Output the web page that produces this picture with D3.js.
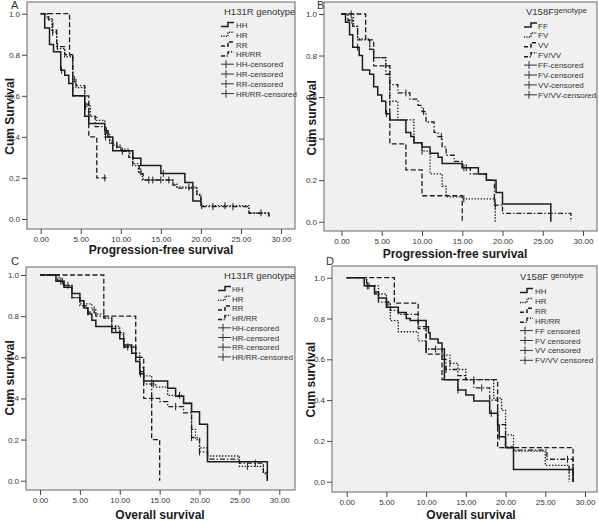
<!DOCTYPE html>
<html><head><meta charset="utf-8">
<script src="https://cdn.jsdelivr.net/npm/d3@7"></script>
<style>html,body{margin:0;padding:0;background:#fff}svg{display:block}</style>
</head><body>
<svg id="chart" width="599" height="522"></svg>
<script>
// ---------- DATA ----------
const xTicks = [0, 5, 10, 15, 20, 25, 30];
const yTicks = [0, 0.2, 0.4, 0.6, 0.8, 1.0];

const panelLetters = ["A", "B", "C", "D"];
const xTitles = ["Progression-free survival", "Progression-free survival", "Overall survival", "Overall survival"];
const yTitles = ["Cum Survival", "Cum survival", "Cum survival", "Cum survival"];
const legendTitlesMain = ["H131R genotype", "V158F", "H131R genotype", "V158F "];
const legendTitlesSup = ["", "genotype", "", "genotype"];

const legendA = ["HH", "HR", "RR", "HR/RR", "HH-censored", "HR-censored", "RR-censored", "HR/RR-censored"];
const legendB = ["FF", "FV", "VV", "FV/VV", "FF-censored", "FV-censored", "VV-censored", "FV/VV-censored"];
const legendC = ["HH", "HR", "RR", "HR/RR", "HH-censored", "HR-censored", "RR-censored", "HR/RR-censored"];
const legendD = ["HH", "HR", "RR", "HR/RR", "FF censored", "FV censored", "VV censored", "FV/VV censored"];

// Panel A: PFS by H131R  [time, survival]
const A_HH = [[0,1],[0.5,0.93],[1.1,0.85],[1.6,0.815],[2.5,0.725],[3.0,0.70],[3.5,0.66],[4.0,0.60],[5.5,0.50],[6.0,0.465],[8.0,0.43],[8.4,0.40],[9.0,0.333],[11.5,0.296],[12.5,0.26],[15.0,0.222],[18.0,0.178],[19.0,0.088],[20.0,0.088]];
const A_HR = [[0,1],[0.8,0.975],[1.4,0.91],[2.0,0.83],[3.0,0.79],[4.0,0.67],[4.4,0.64],[5.5,0.55],[6.2,0.50],[7.0,0.48],[8.0,0.42],[8.6,0.38],[9.0,0.36],[10.0,0.34],[11.0,0.32],[11.5,0.27],[12.2,0.23],[12.7,0.19],[16.5,0.17],[17.0,0.155],[19.5,0.12],[20.0,0.065],[26.0,0.03],[28.5,0.01]];
const A_RR = [[0,1],[3.6,0.8],[4.0,0.6],[6.0,0.4],[7.0,0.2],[8.3,0.2]];
const A_HRRR = [[0,1],[1.0,0.97],[1.5,0.92],[2.0,0.84],[3.0,0.8],[4.0,0.68],[4.4,0.65],[5.5,0.56],[6.0,0.50],[6.8,0.45],[8.0,0.40],[8.6,0.37],[9.5,0.35],[10.0,0.33],[11.0,0.30],[11.5,0.26],[12.3,0.22],[12.8,0.19],[16.5,0.165],[17.0,0.15],[19.5,0.115],[20.0,0.06],[26.0,0.028],[28.5,0.005]];
const A_HH_c = [2.6, 8.2, 15.3, 20.0];
const A_HR_c = [1.5, 5.6, 9.5, 12.5, 14.0, 15.0, 18.5, 20.1, 23.0, 27.5];
const A_RR_c = [8.0];
const A_HRRR_c = [2.1, 4.2, 8.1, 10.2, 13.5, 16.0, 21.5, 24.0];

// Panel B: PFS by V158F
const B_FF = [[0,1],[0.5,0.96],[1.0,0.90],[1.4,0.84],[2.2,0.80],[2.6,0.73],[3.5,0.71],[4.0,0.65],[4.5,0.61],[5.0,0.58],[5.5,0.52],[6.0,0.49],[8.0,0.43],[8.6,0.41],[9.0,0.38],[10.0,0.36],[11.0,0.33],[12.0,0.31],[12.5,0.28],[15.0,0.26],[17.0,0.23],[18.0,0.20],[19.2,0.14],[20.0,0.085],[26.0,0]];
const B_FV = [[0,1],[1.5,0.94],[2.0,0.88],[3.5,0.83],[4.0,0.79],[5.5,0.75],[6.0,0.58],[7.0,0.49],[9.0,0.38],[10.0,0.34],[11.0,0.23],[12.5,0.17],[13.0,0.12],[15.0,0.11],[19.1,0]];
const B_VV = [[0,1],[3.0,0.875],[4.0,0.75],[6.0,0.375],[8.0,0.25],[10.0,0.125],[15.0,0]];
const B_FVVV = [[0,1],[0.8,0.97],[1.4,0.94],[2.0,0.875],[3.5,0.83],[4.0,0.79],[5.5,0.71],[6.0,0.66],[7.0,0.62],[8.5,0.59],[9.5,0.56],[10.0,0.53],[10.5,0.48],[11.5,0.43],[12.0,0.41],[12.5,0.36],[13.0,0.32],[14.0,0.29],[15.0,0.26],[16.0,0.23],[18.0,0.20],[19.0,0.08],[20.0,0.04],[28.5,0]];
const B_FF_c = [2.0, 5.6, 15.2];
const B_FV_c = [1.2, 10.0, 15.2, 19.0];
const B_VV_c = [];
const B_FVVV_c = [1.3, 8.0, 10.2, 12.4, 15.5, 19.1];

// Panel C: OS by H131R
const C_HH = [[0,1],[2.0,0.97],[3.0,0.94],[4.0,0.91],[5.0,0.875],[5.5,0.84],[6.0,0.81],[6.5,0.78],[7.0,0.75],[9.0,0.72],[10.0,0.69],[10.5,0.66],[11.5,0.62],[12.0,0.58],[12.5,0.52],[13.0,0.485],[16.0,0.45],[17.0,0.41],[18.0,0.375],[19.0,0.335],[20.0,0.274],[21.0,0.092],[28.5,0]];
const C_HR = [[0,1],[2.4,0.97],[3.0,0.95],[4.0,0.89],[5.0,0.86],[6.5,0.83],[7.0,0.81],[8.0,0.79],[9.0,0.75],[10.0,0.72],[10.5,0.65],[12.0,0.62],[12.5,0.55],[13.0,0.51],[14.0,0.47],[14.5,0.455],[16.0,0.415],[18.0,0.38],[19.0,0.25],[19.5,0.20],[20.0,0.16],[21.0,0.12],[25.0,0.07],[28.0,0.04],[28.5,0]];
const C_RR = [[0,1],[8.0,0.8],[12.0,0.6],[13.0,0.4],[14.0,0.2],[15.0,0]];
const C_HRRR = [[0,1],[2.2,0.97],[3.0,0.95],[4.0,0.89],[5.0,0.85],[6.0,0.82],[7.0,0.80],[8.0,0.79],[9.0,0.74],[10.0,0.71],[10.5,0.65],[12.0,0.60],[12.5,0.53],[13.0,0.47],[14.0,0.40],[15.0,0.384],[16.0,0.36],[18.0,0.33],[19.0,0.21],[20.0,0.14],[21.0,0.105],[25.0,0.085],[28.0,0.035],[28.5,0]];
const C_HH_c = [2.8, 10.5, 12.6];
const C_HR_c = [2.6, 5.5, 6.8, 11.0, 14.2, 17.5, 19.0, 26.0];
const C_RR_c = [];
const C_HRRR_c = [3.5, 6.0, 9.5, 12.5, 14.0, 17.0, 19.0, 20.0, 27.0];

// Panel D: OS by V158F
const D_FF = [[0,1],[2.2,0.96],[3.5,0.93],[4.0,0.90],[5.0,0.855],[6.5,0.83],[7.5,0.80],[8.0,0.79],[10.0,0.76],[10.3,0.73],[10.5,0.70],[11.5,0.68],[12.0,0.65],[12.3,0.50],[14.0,0.45],[15.0,0.425],[16.0,0.395],[18.0,0.335],[19.0,0.275],[19.2,0.22],[20.0,0.167],[21.0,0.06],[28.5,0]];
const D_FV = [[0,1],[2.5,0.96],[4.0,0.92],[5.0,0.87],[5.5,0.79],[6.5,0.735],[9.0,0.69],[10.0,0.65],[12.0,0.62],[13.0,0.58],[14.0,0.55],[15.0,0.50],[18.0,0.50],[18.5,0.41],[19.5,0.35],[20.0,0.23],[21.0,0.15],[25.0,0.08],[28.0,0]];
const D_VV = [[0,1],[6.0,0.875],[9.0,0.75],[10.0,0.625],[12.0,0.50],[18.0,0.50],[19.0,0.167],[28.5,0]];
const D_FVVV = [[0,1],[2.5,0.96],[3.5,0.92],[4.0,0.88],[5.5,0.84],[6.5,0.82],[9.0,0.76],[10.0,0.65],[12.0,0.60],[12.5,0.55],[14.0,0.52],[15.0,0.50],[16.0,0.46],[18.0,0.40],[19.0,0.28],[20.0,0.17],[21.0,0.155],[25.2,0.11],[28.0,0.11],[28.5,0]];
const D_FF_c = [2.6, 4.0, 14.0, 18.2, 19.2, 28.0];
const D_FV_c = [5.2, 11.2, 13.0, 16.0];
const D_VV_c = [];
const D_FVVV_c = [2.8, 10.0, 12.5, 17.0, 19.0, 27.8];

// ---------- LAYOUT ----------
const panels = [
  {frame:[27,295,2,229],  xr:[40.7,281], yr:[219,13.7], curves:[A_HH,A_HR,A_RR,A_HRRR], cens:[A_HH_c,A_HR_c,A_RR_c,A_HRRR_c], legend:legendA,
   letter:[11,9], yTitleX:10, xTitle:[161,254], leg:{tx:224, ty:15, ry:25, dy:9.8, sx:221, lx:236}},
  {frame:[324,597,2,231], xr:[341.5,583], yr:[221.7,14], curves:[B_FF,B_FV,B_VV,B_FVVV], cens:[B_FF_c,B_FV_c,B_VV_c,B_FVVV_c], legend:legendB,
   letter:[317,9], yTitleX:312, xTitle:[455,258], leg:{tx:526, ty:15, ry:25.5, dy:9.9, sx:524, lx:538}},
  {frame:[26,295,267,490], xr:[40,279.3], yr:[480.7,275], curves:[C_HH,C_HR,C_RR,C_HRRR], cens:[C_HH_c,C_HR_c,C_RR_c,C_HRRR_c], legend:legendC,
   letter:[11,265], yTitleX:10, xTitle:[160,519], leg:{tx:224, ty:279, ry:289, dy:9.7, sx:218, lx:232}},
  {frame:[332,597,266,492], xr:[346.7,585], yr:[481.7,277.7], curves:[D_FF,D_FV,D_VV,D_FVVV], cens:[D_FF_c,D_FV_c,D_VV_c,D_FVVV_c], legend:legendD,
   letter:[326,265], yTitleX:311, xTitle:[471,519], leg:{tx:520, ty:280, ry:291, dy:9.9, sx:520, lx:535}}
];

const dashes = [null, "1.4,1.6", "5,2.5", "5,2,1.4,2"];
const ink = "#1c1c1c";
const font = "'Liberation Sans', Arial, sans-serif";

const svg = d3.select("#chart");

function stepAt(curve, t) {
  let s = curve[0][1];
  for (const [ti, si] of curve) { if (ti <= t) s = si; else break; }
  return s;
}

panels.forEach((p, pi) => {
  const [fx0, fx1, fy0, fy1] = p.frame;
  const g = svg.append("g");
  g.append("rect").attr("x", fx0).attr("y", fy0).attr("width", fx1 - fx0).attr("height", fy1 - fy0)
    .attr("fill", "#f0f0f0").attr("stroke", "#666").attr("stroke-width", 1);

  const x = d3.scaleLinear().domain([0, 30]).range(p.xr);
  const y = d3.scaleLinear().domain([0, 1]).range(p.yr);

  const xa = g.append("g").attr("transform", `translate(0,${fy1})`)
    .call(d3.axisBottom(x).tickValues(xTicks).tickFormat(d3.format(".2f")).tickSize(5).tickPadding(2));
  const ya = g.append("g").attr("transform", `translate(${fx0},0)`)
    .call(d3.axisLeft(y).tickValues(yTicks).tickFormat(d3.format(".1f")).tickSize(5).tickPadding(2));
  [xa, ya].forEach(a => {
    a.select(".domain").remove();
    a.selectAll("line").attr("stroke", "#444");
    a.selectAll("text").attr("fill", "#333").style("font-family", font).style("font-size", "8px");
  });

  // curves
  const line = d3.line().x(d => x(d[0])).y(d => y(d[1])).curve(d3.curveStepAfter);
  p.curves.forEach((c, ci) => {
    g.append("path").attr("d", line(c)).attr("fill", "none").attr("stroke", ink)
      .attr("stroke-width", ci === 0 ? 1.5 : 1.3).attr("stroke-dasharray", dashes[ci]);
    g.selectAll(null).data(p.cens[ci]).enter().append("line")
      .attr("x1", d => x(d)).attr("x2", d => x(d))
      .attr("y1", d => y(stepAt(c, d)) - 3.5).attr("y2", d => y(stepAt(c, d)) + 3.5)
      .attr("stroke", ink).attr("stroke-width", 1);
  });

  // legend
  const L = p.leg;
  const tt = g.append("text").attr("x", L.tx).attr("y", L.ty).attr("fill", "#333")
    .style("font-family", font).style("font-size", "9.5px");
  tt.append("tspan").text(legendTitlesMain[pi]);
  if (legendTitlesSup[pi]) tt.append("tspan").attr("dy", -2).style("font-size", "8px").text(legendTitlesSup[pi]);

  p.legend.forEach((lab, li) => {
    const cy = L.ry + li * L.dy;
    if (li < 4) {
      g.append("path").attr("d", `M${L.sx},${cy + 1.5}H${L.sx + 7}V${cy - 2.5}H${L.sx + 13}`)
        .attr("fill", "none").attr("stroke", ink).attr("stroke-width", 1.5)
        .attr("stroke-dasharray", dashes[li] ? dashes[li].split(",").map(v => v * 0.8).join(",") : null);
    } else {
      g.append("line").attr("x1", L.sx).attr("x2", L.sx + 13).attr("y1", cy).attr("y2", cy).attr("stroke", "#333");
      g.append("line").attr("x1", L.sx + 5).attr("x2", L.sx + 5).attr("y1", cy - 4).attr("y2", cy + 4).attr("stroke", "#333");
    }
    g.append("text").attr("x", L.lx).attr("y", cy + 3).attr("fill", "#333")
      .style("font-family", font).style("font-size", "8px").text(lab);
  });

  // titles
  g.append("text").attr("transform", `translate(${p.yTitleX},${(p.yr[0] + p.yr[1]) / 2}) rotate(-90)`)
    .attr("text-anchor", "middle").attr("dy", "0.35em").attr("fill", "#1a1a1a")
    .style("font-family", font).style("font-size", "12px").style("font-weight", "bold").text(yTitles[pi]);
  g.append("text").attr("x", p.xTitle[0]).attr("y", p.xTitle[1]).attr("text-anchor", "middle").attr("fill", "#1a1a1a")
    .style("font-family", font).style("font-size", "12px").style("font-weight", "bold").text(xTitles[pi]);
  g.append("text").attr("x", p.letter[0]).attr("y", p.letter[1]).attr("fill", "#333")
    .style("font-family", font).style("font-size", "11px").text(panelLetters[pi]);
});
</script>
</body></html>
